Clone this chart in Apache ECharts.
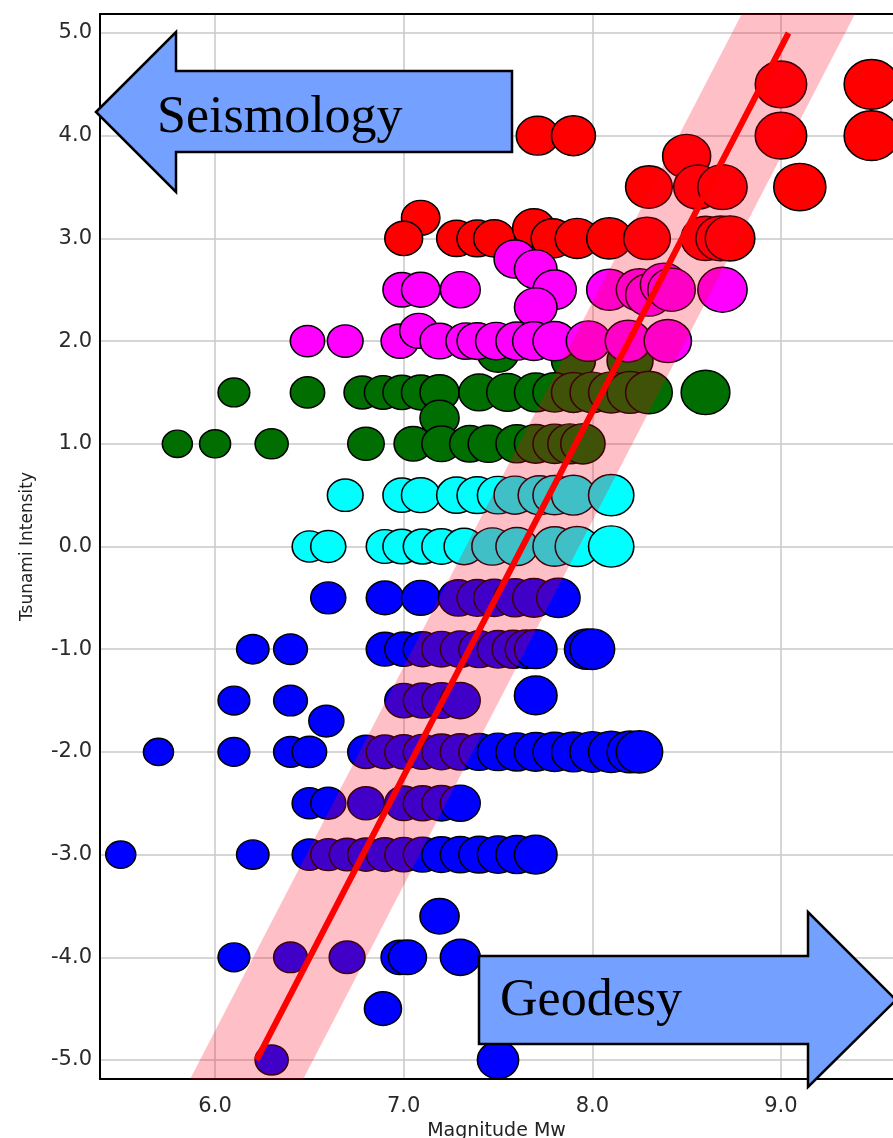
<!DOCTYPE html>
<html><head><meta charset="utf-8">
<script src="https://cdn.jsdelivr.net/npm/echarts@6/dist/echarts.min.js"></script>
<style>html,body{margin:0;padding:0;background:#fff}#c{width:893px;height:1138px}</style>
</head><body><div id="c"></div>
<script>
const xTicks = [6, 7, 8, 9];
const yTicks = [-5, -4, -3, -2, -1, 0, 1, 2, 3, 4, 5];
const xMin = 5.39, xMax = 9.594, yMin = -5.185, yMax = 5.185;

const red = [
  [9.0,4.5],[9.48,4.5],
  [7.71,4.0],[7.9,4.0],[9.0,4.0],[9.48,4.0],
  [8.5,3.8],
  [8.3,3.5],[8.56,3.5],[8.69,3.5],[9.1,3.5],
  [7.09,3.2],
  [7.0,3.0],[7.28,3.0],[7.39,3.0],[7.48,3.0],[7.69,3.1],[7.79,3.0],[7.92,3.0],[8.09,3.0],[8.29,3.0],[8.6,3.0],[8.68,3.0],[8.73,3.0]
];
const magenta = [
  [7.59,2.8],[7.7,2.7],
  [6.99,2.5],[7.09,2.5],[7.3,2.5],[7.8,2.5],[8.09,2.5],[8.25,2.5],[8.3,2.45],[8.38,2.55],[8.42,2.5],[8.69,2.5],
  [7.7,2.33],
  [6.49,2.0],[6.69,2.0],[6.98,2.0],[7.08,2.1],[7.19,2.0],[7.33,2.0],[7.39,2.0],[7.49,2.0],[7.6,2.0],[7.69,2.0],[7.8,2.0],[7.98,2.0],[8.19,2.0],[8.4,2.0]
];
const green = [
  [7.5,1.88],[7.9,1.81],[8.2,1.81],
  [6.1,1.5],[6.49,1.5],[6.78,1.5],[6.89,1.5],[6.99,1.5],[7.09,1.5],[7.19,1.5],[7.4,1.5],[7.55,1.5],[7.7,1.5],[7.8,1.5],[7.9,1.5],[8.0,1.5],[8.1,1.5],[8.2,1.5],[8.3,1.5],[8.6,1.5],
  [7.19,1.25],
  [5.8,1.0],[6.0,1.0],[6.3,1.0],[6.8,1.0],[7.05,1.0],[7.2,1.0],[7.35,1.0],[7.45,1.0],[7.6,1.0],[7.7,1.0],[7.8,1.0],[7.88,1.0],[7.95,1.0]
];
const cyan = [
  [6.69,0.5],[6.99,0.5],[7.09,0.5],[7.28,0.5],[7.39,0.5],[7.5,0.5],[7.59,0.5],[7.72,0.5],[7.8,0.5],[7.9,0.5],[8.1,0.5],
  [6.5,0],[6.6,0],[6.9,0],[6.99,0],[7.1,0],[7.2,0],[7.32,0],[7.47,0],[7.6,0],[7.8,0],[7.92,0],[8.1,0]
];
const blue = [
  [6.6,-0.5],[6.9,-0.5],[7.09,-0.5],[7.29,-0.5],[7.39,-0.5],[7.48,-0.5],[7.59,-0.5],[7.69,-0.5],[7.82,-0.5],
  [6.2,-1],[6.4,-1],[6.9,-1],[7.0,-1],[7.1,-1],[7.2,-1],[7.3,-1],[7.4,-1],[7.5,-1],[7.58,-1],[7.65,-1],[7.7,-1],[7.97,-1],[8.0,-1],
  [6.1,-1.5],[6.4,-1.5],[7.0,-1.5],[7.1,-1.5],[7.2,-1.5],[7.3,-1.5],[7.7,-1.45],
  [6.59,-1.7],
  [5.7,-2],[6.1,-2],[6.4,-2],[6.5,-2],[6.8,-2],[6.9,-2],[7.0,-2],[7.1,-2],[7.2,-2],[7.3,-2],[7.4,-2],[7.5,-2],[7.6,-2],[7.7,-2],[7.8,-2],[7.9,-2],[8.0,-2],[8.1,-2],[8.2,-2],[8.25,-2],
  [6.5,-2.5],[6.6,-2.5],[6.8,-2.5],[7.0,-2.5],[7.1,-2.5],[7.2,-2.5],[7.3,-2.5],
  [5.5,-3],[6.2,-3],[6.5,-3],[6.6,-3],[6.7,-3],[6.8,-3],[6.9,-3],[7.0,-3],[7.1,-3],[7.2,-3],[7.3,-3],[7.4,-3],[7.5,-3],[7.6,-3],[7.7,-3],
  [7.19,-3.6],
  [6.1,-4],[6.4,-4],[6.7,-4],[6.98,-4],[7.02,-4],[7.3,-4],
  [6.89,-4.5],
  [6.3,-5],[7.5,-5]
];
const fitLine = [[6.22,-5],[9.04,5]];
const bandHalfWidth = 0.3;

const slope = (fitLine[1][0]-fitLine[0][0])/(fitLine[1][1]-fitLine[0][1]);
const xAt = y => fitLine[0][0] + (y - fitLine[0][1]) * slope;
const bandPts = [
  [xAt(yMin)-bandHalfWidth, yMin],[xAt(yMax)-bandHalfWidth, yMax],
  [xAt(yMax)+bandHalfWidth, yMax],[xAt(yMin)+bandHalfWidth, yMin]
];

function sizeOf(v){ const w = Math.max(30, 31 + 6.8*(v[0]-6)); return [w, w*0.91]; }
function scat(name, data, color){
  return {type:'scatter', name, data, symbol:'circle', symbolSize:sizeOf, z:2,
    itemStyle:{color, borderColor:'#000', borderWidth:1.5, opacity:1}, silent:true};
}
const font = 'DejaVu Sans';
const axisLineStyle = {show:true, onZero:false, lineStyle:{color:'#000', width:2}};
const chart = echarts.init(document.getElementById('c'), null, {renderer:'canvas'});
chart.setOption({
  animation:false,
  backgroundColor:'#fff',
  grid:{left:100, right:0, top:14, bottom:59, show:false, containLabel:false, outerBoundsMode:'none'},
  xAxis:[{type:'value', min:xMin, max:xMax,
    name:'Magnitude Mw', nameLocation:'middle', nameGap:36,
    nameTextStyle:{fontFamily:font, fontSize:19, color:'#222'},
    axisLine:axisLineStyle, axisTick:{show:false, customValues:xTicks},
    axisLabel:{customValues:xTicks, formatter:v=>v.toFixed(1), fontFamily:font, fontSize:21, color:'#2a2a2a', margin:17},
    splitLine:{show:true, lineStyle:{color:'#c8c8c8', width:1.5}}},
   {type:'value', position:'top', min:xMin, max:xMax,
    axisLine:axisLineStyle, axisTick:{show:false}, axisLabel:{show:false}, splitLine:{show:false}}],
  yAxis:{type:'value', min:yMin, max:yMax,
    name:'Tsunami Intensity', nameLocation:'middle', nameGap:64,
    nameTextStyle:{fontFamily:font, fontSize:17, color:'#222'},
    axisLine:axisLineStyle, axisTick:{show:false, customValues:yTicks},
    axisLabel:{customValues:yTicks, formatter:v=>v.toFixed(1), fontFamily:font, fontSize:21, color:'#2a2a2a', margin:8},
    splitLine:{show:true, lineStyle:{color:'#c8c8c8', width:1.5}}},
  series:[
    scat('green', green, '#006e00'),
    scat('red', red, '#ff0000'),
    scat('magenta', magenta, '#ff00ff'),
    scat('cyan', cyan, '#00ffff'),
    scat('blue', blue, '#0000ff'),
    {type:'custom', z:5, silent:true, data:[[0,0]],
      renderItem:(params, api)=>({type:'polygon', shape:{points:bandPts.map(p=>api.coord(p))},
        style:{fill:'rgba(255,0,30,0.25)'}})},
    {type:'line', z:6, data:fitLine, symbol:'none', silent:true,
      lineStyle:{color:'#ff0000', width:6, cap:'butt'}}
  ],
  graphic:[
    {type:'polygon', z:100, silent:true,
      shape:{points:[[96,112],[176,32],[176,71],[512,71],[512,152],[176,152],[176,192]]},
      style:{fill:'#74a0ff', stroke:'#000', lineWidth:2.5}},
    {type:'text', z:101, silent:true, x:157, y:118,
      style:{text:'Seismology', font:'52px "Liberation Serif"', fill:'#000', verticalAlign:'middle', align:'left'}},
    {type:'polygon', z:100, silent:true,
      shape:{points:[[479,956],[808,956],[808,912],[896,1000],[808,1087],[808,1044],[479,1044]]},
      style:{fill:'#74a0ff', stroke:'#000', lineWidth:2.5}},
    {type:'text', z:101, silent:true, x:500, y:1001,
      style:{text:'Geodesy', font:'52px "Liberation Serif"', fill:'#000', verticalAlign:'middle', align:'left'}}
  ]
});
</script></body></html>
